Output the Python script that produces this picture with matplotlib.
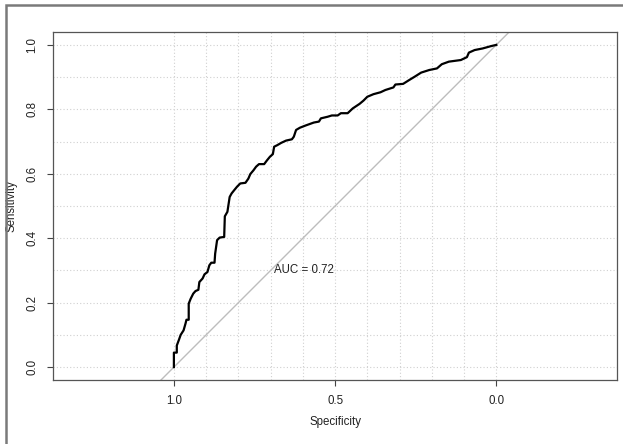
import matplotlib
matplotlib.use("Agg")
import matplotlib.pyplot as plt
from matplotlib.patches import Rectangle
import numpy as np

plt.rcParams['font.family'] = ['Liberation Sans', 'DejaVu Sans']

# ROC curve (specificity, sensitivity)
specificity = [1.000, 1.000, 0.991, 0.991, 0.985, 0.979, 0.970, 0.964, 0.961, 0.954,
               0.954, 0.948, 0.940, 0.933, 0.924, 0.921, 0.911, 0.905, 0.896, 0.890,
               0.884, 0.874, 0.872, 0.866, 0.858, 0.844, 0.842, 0.834, 0.827, 0.821,
               0.813, 0.804, 0.794, 0.778, 0.769, 0.763, 0.753, 0.745, 0.736, 0.720,
               0.711, 0.702, 0.693, 0.689, 0.679, 0.667, 0.652, 0.634, 0.628, 0.621,
               0.609, 0.591, 0.566, 0.550, 0.544, 0.523, 0.510, 0.492, 0.482, 0.461,
               0.445, 0.424, 0.412, 0.400, 0.381, 0.359, 0.344, 0.319, 0.313, 0.289,
               0.270, 0.252, 0.233, 0.208, 0.184, 0.169, 0.147, 0.110, 0.091, 0.085,
               0.067, 0.042, 0.017, 0.000]
sensitivity = [0.000, 0.045, 0.045, 0.067, 0.083, 0.100, 0.114, 0.135, 0.147, 0.147,
               0.197, 0.212, 0.228, 0.236, 0.240, 0.264, 0.275, 0.288, 0.295, 0.316,
               0.324, 0.324, 0.352, 0.394, 0.402, 0.404, 0.468, 0.482, 0.528, 0.539,
               0.549, 0.560, 0.570, 0.572, 0.585, 0.599, 0.611, 0.622, 0.630, 0.630,
               0.642, 0.653, 0.661, 0.684, 0.689, 0.696, 0.703, 0.707, 0.715, 0.736,
               0.743, 0.750, 0.759, 0.762, 0.772, 0.777, 0.781, 0.781, 0.788, 0.788,
               0.803, 0.817, 0.827, 0.839, 0.847, 0.853, 0.860, 0.868, 0.877, 0.879,
               0.891, 0.902, 0.914, 0.922, 0.927, 0.940, 0.948, 0.953, 0.962, 0.976,
               0.984, 0.989, 0.996, 1.000]
auc_label = "AUC = 0.72"
x_ticks = [1.0, 0.5, 0.0]
y_ticks = [0.0, 0.2, 0.4, 0.6, 0.8, 1.0]
grid_steps = [0.0, 0.1, 0.2, 0.3, 0.4, 0.5, 0.6, 0.7, 0.8, 0.9, 1.0]

W, H = 623, 444
fig = plt.figure(figsize=(W / 100, H / 100), dpi=100)
ax = fig.add_axes([53 / W, (H - 380) / H, 564 / W, 348 / H])

# outer frame of the picture (top and left edges visible)
fig.patches.append(Rectangle((5.5 / W, -0.05), 1.2, (H - 5) / H + 0.05,
                             transform=fig.transFigure, fill=False,
                             edgecolor='#7a7a7a', linewidth=1.8))

grid_kw = dict(color='#d0d0d0', linestyle=(0, (1, 2)), linewidth=0.8, zorder=1)
for g in grid_steps:
    ax.axvline(g, **grid_kw)
    ax.axhline(g, **grid_kw)

# chance line sens = 1 - spec across the whole box
xs = np.array([1.5, -0.5])
ax.plot(xs, 1 - xs, color='#bdbdbd', linewidth=1.0, zorder=2)

ax.plot(specificity, sensitivity, color='black', linewidth=1.6, zorder=3)

ax.text(0.69, 0.3, auc_label, ha='left', va='center', fontsize=8.3, color='#222222')

ax.set_xlim(1.375, -0.3745)
ax.set_ylim(-0.04, 1.04)
ax.set_xticks(x_ticks)
ax.set_xticklabels([f"{v:.1f}" for v in x_ticks])
ax.set_yticks(y_ticks)
ax.set_yticklabels([f"{v:.1f}" for v in y_ticks], rotation=90, va='center')
ax.tick_params(axis='both', length=4.5, width=0.8, color='#444444',
               labelsize=8.3, labelcolor='#222222')
ax.tick_params(axis='x', pad=6.5)
ax.tick_params(axis='y', pad=6)
for sp in ax.spines.values():
    sp.set_color('#555555')
    sp.set_linewidth(0.9)

ax.set_xlabel("Specificity", fontsize=8.3, color='#222222', va='center')
ax.xaxis.set_label_coords(0.5, (380 - 421.7) / 348)
ax.set_ylabel("Sensitivity", fontsize=8.3, color='#222222', va='center')
ax.yaxis.set_label_coords((12 - 53) / 564, 0.5)

fig.savefig("out.png", dpi=100)
